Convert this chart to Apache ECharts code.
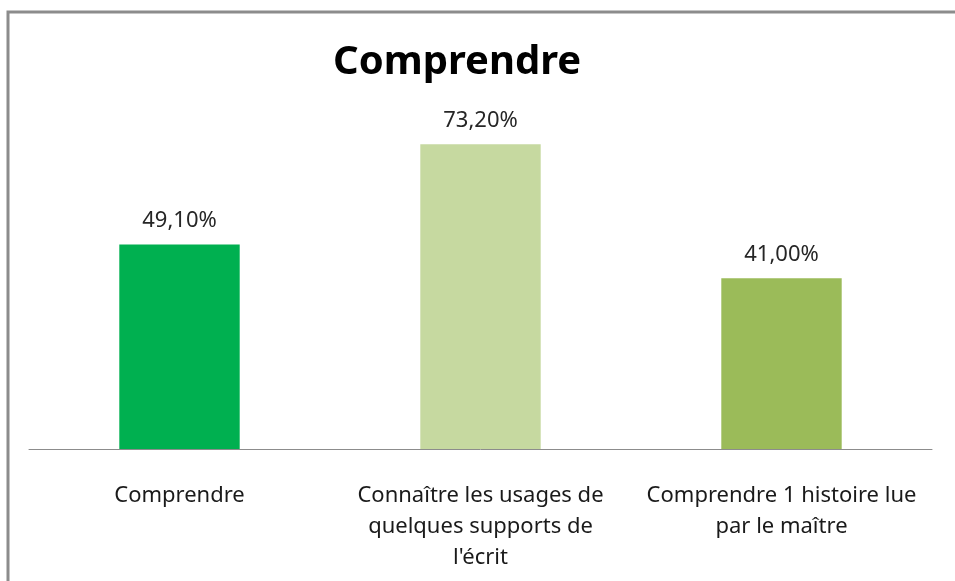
<!DOCTYPE html>
<html>
<head>
<meta charset="utf-8">
<script src="https://cdn.jsdelivr.net/npm/echarts@6/dist/echarts.min.js"></script>
<style>
  html, body { margin: 0; padding: 0; background: #fff; }
  #chart { width: 955px; height: 581px; }
</style>
</head>
<body>
<div id="chart"></div>
<script>
var categories = ['Comprendre', 'Connaître les usages de\nquelques supports de\nl\'écrit', 'Comprendre 1 histoire lue\npar le maître'];
var values = [49.1, 73.2, 41.0];
var barColors = ['#00b050', '#c6d9a0', '#9bbb59'];

var chart = echarts.init(document.getElementById('chart'));

chart.setOption({
  backgroundColor: '#fff',
  animation: false,
  title: {
    text: 'Comprendre',
    left: 328,
    top: 38,
    textStyle: { fontFamily: 'Noto Sans', fontWeight: 'bold', fontSize: 40, color: '#000' }
  },
  graphic: [{
    type: 'rect',
    shape: { x: 8, y: 12, width: 1000, height: 700 },
    style: { fill: 'none', stroke: '#8c8c8c', lineWidth: 3 },
    silent: true
  }],
  grid: { left: 29, right: 23, top: 116, bottom: 132 },
  xAxis: {
    type: 'category',
    data: categories,
    axisLine: { lineStyle: { color: '#8c8c8c', width: 1 } },
    axisTick: { show: false },
    axisLabel: {
      interval: 0,
      margin: 31,
      lineHeight: 31,
      fontFamily: 'Noto Sans',
      fontSize: 22,
      color: '#1a1a1a'
    }
  },
  yAxis: {
    type: 'value',
    min: 0,
    max: 80,
    show: false,
    splitLine: { show: false }
  },
  series: [{
    type: 'bar',
    barWidth: '40%',
    data: values.map(function (v, i) {
      return { value: v, itemStyle: { color: barColors[i] } };
    }),
    label: {
      show: true,
      position: 'top',
      distance: 13,
      fontFamily: 'Noto Sans',
      fontSize: 22,
      color: '#262626',
      formatter: function (p) {
        return p.value.toFixed(2).replace('.', ',') + '%';
      }
    }
  }]
});
</script>
</body>
</html>
